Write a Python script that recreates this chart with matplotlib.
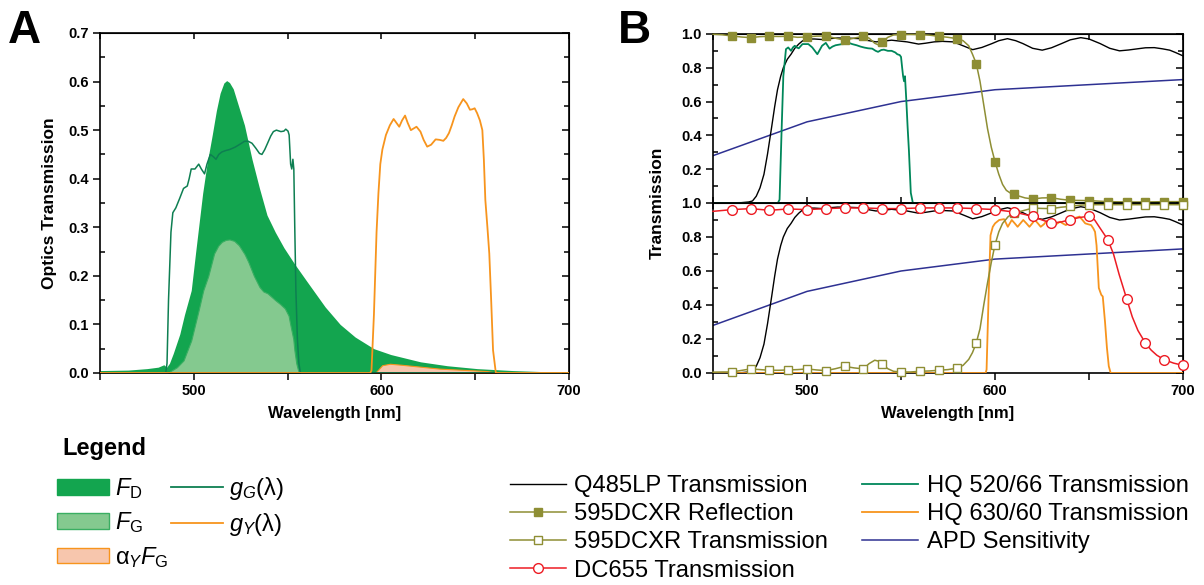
import numpy as np
import matplotlib
matplotlib.use("Agg")
import matplotlib.pyplot as plt
from matplotlib.patches import Patch
from matplotlib.lines import Line2D
from matplotlib.ticker import MultipleLocator

plt.rcParams["font.family"] = ["Liberation Sans", "DejaVu Sans"]
plt.rcParams["mathtext.fontset"] = "custom"
plt.rcParams["mathtext.rm"] = "Liberation Sans"
plt.rcParams["mathtext.it"] = "Liberation Sans:italic"
plt.rcParams["mathtext.bf"] = "Liberation Sans:bold"

# ---- panel A data ----
fd_wl = [450, 465, 475, 481, 484, 485.5, 487, 489, 492.5, 495, 498.6, 501, 504.7, 507,
         509.8, 512, 514, 516, 517.5, 519, 521, 523, 527, 531, 535, 539, 543.4, 548,
         553.6, 560, 570, 578, 586, 596, 605, 620.8, 635, 651, 670, 685, 700]
fd_val = [0.005, 0.006, 0.009, 0.012, 0.017, 0.012, 0.02, 0.04, 0.08, 0.12, 0.17, 0.25,
          0.37, 0.43, 0.49, 0.54, 0.576, 0.597, 0.602, 0.598, 0.585, 0.56, 0.51, 0.44,
          0.38, 0.325, 0.29, 0.258, 0.225, 0.19, 0.136, 0.10, 0.074, 0.05, 0.038, 0.023,
          0.015, 0.009, 0.005, 0.003, 0.002]

fg_wl = [486.4, 488, 491, 494.5, 498.6, 502.6, 505, 507.7, 510.8, 513, 514.9, 517, 519,
         521.5, 524, 527, 529, 532, 535, 537, 539.3, 543.4, 546, 548.5, 550.5, 551.5,
         553, 553.6, 554.6, 555.6, 556.5]
fg_val = [0.0, 0.005, 0.012, 0.026, 0.067, 0.13, 0.17, 0.20, 0.246, 0.262, 0.27, 0.274,
          0.275, 0.272, 0.263, 0.245, 0.229, 0.20, 0.177, 0.168, 0.164, 0.15, 0.142,
          0.133, 0.118, 0.098, 0.07, 0.047, 0.02, 0.005, 0.0]

afg_wl = [596, 597.4, 599, 600.4, 604.5, 610.6, 620.8, 631, 641, 651, 656, 659.5, 661]
afg_val = [0.0, 0.003, 0.01, 0.016, 0.019, 0.017, 0.013, 0.009, 0.007, 0.005, 0.004,
           0.002, 0.0]

gg_wl = [450, 485, 485.7, 486.5, 487.8, 488.8, 490.4, 492.5, 494.5, 496.5, 497.5, 498.6,
         500.6, 502.6, 504, 505.7, 507, 508.8, 510.5, 511.8, 513.3, 514.9, 517, 519, 522,
         525, 527, 529, 531, 533, 535, 536.3, 537.8, 539.3, 541, 542.4, 544, 546.4, 548,
         549, 550.2, 550.8, 551.6, 552.2, 552.8, 553.3, 553.8, 554.4, 555.2, 556, 556.8, 700]
gg_val = [0.0, 0.0, 0.02, 0.15, 0.29, 0.33, 0.34, 0.36, 0.38, 0.385, 0.40, 0.42, 0.42,
          0.43, 0.42, 0.41, 0.43, 0.45, 0.445, 0.44, 0.45, 0.455, 0.458, 0.46, 0.465,
          0.472, 0.477, 0.477, 0.473, 0.463, 0.452, 0.45, 0.46, 0.473, 0.488, 0.497, 0.50,
          0.497, 0.498, 0.502, 0.498, 0.49, 0.43, 0.42, 0.44, 0.42, 0.30, 0.17, 0.07,
          0.02, 0.0, 0.0]

gy_wl = [450, 594, 594.7, 596, 597.4, 598.4, 599.4, 600.5, 602.4, 604.5, 606.5, 608,
         609.5, 611, 612.6, 614, 615.7, 617, 618.7, 620.8, 622.5, 624.4, 626.5, 628.9,
         631, 633, 634.5, 636, 637.5, 639, 641, 643.6, 645.5, 647.2, 648.5, 649.7, 651,
         652.5, 653.8, 654.6, 655.4, 656.5, 657.5, 658.5, 659.5, 661, 700]
gy_val = [0.0, 0.0, 0.005, 0.12, 0.29, 0.37, 0.43, 0.46, 0.49, 0.51, 0.523, 0.515, 0.507,
          0.52, 0.53, 0.515, 0.50, 0.503, 0.507, 0.497, 0.48, 0.466, 0.47, 0.481, 0.48,
          0.478, 0.484, 0.494, 0.51, 0.528, 0.547, 0.564, 0.555, 0.542, 0.543, 0.545,
          0.535, 0.52, 0.50, 0.44, 0.356, 0.30, 0.246, 0.15, 0.047, 0.0, 0.0]

# ---- panel B data ----
q485_wl = [450, 465, 469, 471, 473, 475, 477.1, 479, 481.2, 482.8, 484.3, 486, 487.4,
           489.5, 491.5, 493.5, 495.6, 497.5, 499.7, 504, 507.9, 512, 516.2, 522, 528.5,
           532, 536.7, 541, 545, 549, 553.2, 559.3, 563, 567.6, 572, 577.8, 583, 588.1,
           593, 598.4, 602, 606.6, 611, 614.8, 620, 625.1, 630, 635.4, 640, 645.6, 650,
           655.9, 661, 666.2, 671, 676.5, 680, 684.7, 689, 692.9, 696, 700]
q485_val = [0.0, 0.002, 0.006, 0.012, 0.04, 0.09, 0.17, 0.29, 0.45, 0.57, 0.67, 0.75,
            0.80, 0.85, 0.88, 0.915, 0.94, 0.958, 0.97, 0.97, 0.967, 0.972, 0.976, 0.975,
            0.972, 0.962, 0.953, 0.958, 0.963, 0.958, 0.953, 0.94, 0.945, 0.953, 0.956,
            0.953, 0.93, 0.907, 0.92, 0.943, 0.96, 0.972, 0.96, 0.943, 0.915, 0.904,
            0.918, 0.943, 0.965, 0.978, 0.97, 0.943, 0.915, 0.90, 0.905, 0.913, 0.918,
            0.919, 0.912, 0.904, 0.89, 0.87]

refl_wl = [450, 455, 460, 465, 470, 475, 480, 485, 490, 495, 500, 505, 510, 515, 520,
           525, 530, 533, 536, 538, 540, 543, 546, 550, 555, 560, 565, 570, 575, 580,
           583, 586, 588, 590, 592, 594, 596, 598, 600, 602, 604, 606, 608, 610, 613,
           616, 620, 625, 630, 635, 640, 645, 650, 660, 670, 680, 690, 700]
refl_val = [0.998, 0.995, 0.988, 0.982, 0.978, 0.984, 0.986, 0.985, 0.986, 0.98, 0.982,
            0.987, 0.988, 0.975, 0.963, 0.975, 0.986, 0.975, 0.945, 0.935, 0.953, 0.98,
            0.994, 0.996, 0.997, 0.996, 0.993, 0.986, 0.98, 0.972, 0.96, 0.93, 0.88,
            0.825, 0.72, 0.58, 0.44, 0.33, 0.244, 0.17, 0.11, 0.075, 0.06, 0.051, 0.04,
            0.03, 0.024, 0.03, 0.031, 0.022, 0.016, 0.015, 0.014, 0.008, 0.006, 0.006,
            0.008, 0.008]

dctr_wl = [450, 455, 460, 465, 470, 475, 480, 485, 490, 495, 500, 505, 510, 515, 520,
           525, 530, 533, 536, 538, 540, 543, 546, 550, 555, 560, 565, 570, 575, 580,
           583, 586, 588, 590, 592, 594, 596, 598, 600, 602, 604, 607, 610, 615, 620,
           625, 630, 635, 640, 645, 650, 660, 670, 680, 690, 700]
dctr_val = [0.005, 0.006, 0.006, 0.015, 0.024, 0.02, 0.016, 0.016, 0.018, 0.02, 0.024,
            0.018, 0.014, 0.025, 0.039, 0.03, 0.024, 0.055, 0.075, 0.07, 0.053, 0.025,
            0.01, 0.006, 0.006, 0.01, 0.012, 0.016, 0.02, 0.029, 0.045, 0.08, 0.12,
            0.176, 0.26, 0.40, 0.53, 0.65, 0.755, 0.83, 0.88, 0.92, 0.94, 0.955, 0.97,
            0.968, 0.967, 0.975, 0.98, 0.987, 0.99, 0.99, 0.99, 0.99, 0.99, 0.99]

dc655_wl = [450, 460, 470, 480, 490, 500, 510, 520, 530, 540, 550, 560, 570, 580, 590,
            600, 610, 620, 625, 630, 635, 640, 645, 650, 653, 656, 660, 663, 666, 670,
            673, 676, 680, 683, 686, 690, 695, 700]
dc655_val = [0.951, 0.961, 0.967, 0.957, 0.965, 0.961, 0.967, 0.971, 0.971, 0.967,
             0.967, 0.971, 0.971, 0.971, 0.967, 0.961, 0.947, 0.922, 0.90, 0.882, 0.888,
             0.902, 0.915, 0.922, 0.90, 0.85, 0.784, 0.70, 0.58, 0.437, 0.33, 0.25,
             0.176, 0.135, 0.105, 0.078, 0.058, 0.045]

hq520_wl = [450, 484.5, 485.4, 486.4, 487.4, 488.8, 490, 491.5, 492.5, 493.5, 494.5,
            495.6, 497.6, 500.7, 502.8, 505.5, 507, 508, 510, 512, 513.5, 515.2, 518.2,
            520, 522.3, 524, 526.4, 528.5, 530.6, 532.5, 534.7, 536.5, 537.8, 539.5,
            540.9, 543, 545, 547, 548, 549.3, 550, 550.6, 551.1, 551.6, 552.1, 552.8,
            553.5, 554.2, 555.2, 556.3, 700]
hq520_val = [0.0, 0.0, 0.02, 0.40, 0.75, 0.91, 0.92, 0.90, 0.92, 0.93, 0.92, 0.915,
             0.94, 0.94, 0.92, 0.88, 0.91, 0.93, 0.947, 0.913, 0.925, 0.933, 0.939, 0.94,
             0.947, 0.94, 0.933, 0.925, 0.919, 0.915, 0.913, 0.90, 0.894, 0.905, 0.907,
             0.90, 0.90, 0.89, 0.88, 0.875, 0.864, 0.80, 0.75, 0.72, 0.75, 0.61, 0.45,
             0.31, 0.06, 0.0, 0.0]

hq630_wl = [450, 595, 595.5, 596.6, 597.6, 598.8, 600, 602.2, 604.8, 606.8, 608.9, 610.5,
            612, 613.5, 615, 616.7, 618.3, 619.8, 621.2, 622.8, 624.3, 626, 627.4, 629,
            630.5, 632.5, 634.6, 636, 637.7, 639.8, 641.8, 643.5, 644.9, 646.5, 648,
            649.5, 651.1, 652.3, 653.2, 654, 655.2, 656.5, 657.3, 658.5, 659.5, 660.5,
            661.5, 700]
hq630_val = [0.0, 0.0, 0.02, 0.46, 0.81, 0.86, 0.88, 0.90, 0.905, 0.86, 0.90, 0.88, 0.86,
             0.88, 0.90, 0.88, 0.86, 0.88, 0.90, 0.88, 0.86, 0.875, 0.894, 0.88, 0.865,
             0.875, 0.89, 0.88, 0.87, 0.89, 0.91, 0.915, 0.92, 0.90, 0.88, 0.875, 0.87,
             0.85, 0.83, 0.75, 0.50, 0.46, 0.45, 0.30, 0.15, 0.04, 0.0, 0.0]

apd_wl = [450, 500, 550, 600, 650, 700]
apd_val = [0.28, 0.48, 0.60, 0.67, 0.70, 0.73]

marker_wl = [460, 470, 480, 490, 500, 510, 520, 530, 540, 550, 560, 570, 580, 590, 600,
             610, 620, 630, 640, 650, 660, 670, 680, 690, 700]

# colours
C_FD = "#13a54f"
C_FG = "#84c98f"
C_FG_EDGE = "#3aae62"
C_AFG = "#f7c6ad"
C_ORANGE = "#f7941d"
C_GG = "#0e7f52"
C_HQ520 = "#00875a"
C_OLIVE = "#8e8e34"
C_RED = "#ed1c24"
C_APD = "#2e3192"


def marks(wl):
    return list(np.isin(np.asarray(wl, dtype=float), marker_wl))


def style_axis(ax, ymajor, yminor, show_xlabels=True):
    ax.set_xlim(450, 700)
    ax.xaxis.set_major_locator(MultipleLocator(100))
    ax.xaxis.set_minor_locator(MultipleLocator(50))
    ax.yaxis.set_major_locator(MultipleLocator(ymajor))
    ax.yaxis.set_minor_locator(MultipleLocator(yminor))
    ax.tick_params(axis="both", which="major", length=5, width=1.1, labelsize=10.5, pad=3)
    ax.tick_params(axis="x", which="minor", length=5, width=1.1, direction="out")
    ax.tick_params(axis="y", which="minor", length=3.5, width=1.1, direction="in")
    ax.tick_params(axis="x", which="major", direction="out", labelbottom=show_xlabels)
    ax.tick_params(axis="y", which="major", direction="out")
    for sp in ax.spines.values():
        sp.set_linewidth(1.2)
    # top / right ticks point inwards
    sx = ax.secondary_xaxis("top")
    sx.xaxis.set_major_locator(MultipleLocator(100))
    sx.xaxis.set_minor_locator(MultipleLocator(50))
    sx.tick_params(which="both", direction="in", length=4, width=1.1, labeltop=False)
    sy = ax.secondary_yaxis("right")
    sy.yaxis.set_major_locator(MultipleLocator(ymajor))
    sy.yaxis.set_minor_locator(MultipleLocator(yminor))
    sy.tick_params(which="major", direction="in", length=5, width=1.1, labelright=False)
    sy.tick_params(which="minor", direction="in", length=3.5, width=1.1)


fig = plt.figure(figsize=(12.04, 5.85), dpi=100)

# ---------------- Panel A ----------------
axA = fig.add_axes([0.0831, 0.3624, 0.3895, 0.5812])
axA.fill_between(fd_wl, fd_val, color=C_FD, lw=0, zorder=1)
axA.fill_between(fg_wl, fg_val, facecolor=C_FG, edgecolor=C_FG_EDGE, lw=0.8, zorder=2)
axA.fill_between(afg_wl, afg_val, facecolor=C_AFG, edgecolor=C_ORANGE, lw=0.8, zorder=2)
axA.plot(gg_wl, gg_val, color=C_GG, lw=1.1, zorder=3)
axA.plot(gy_wl, gy_val, color=C_ORANGE, lw=1.3, zorder=3)
axA.set_ylim(0, 0.7)
style_axis(axA, 0.1, 0.05)
axA.set_xticks([500, 600, 700])
axA.set_xticklabels(["500", "600", "700"], fontweight="bold")
axA.set_yticks([0.0, 0.1, 0.2, 0.3, 0.4, 0.5, 0.6, 0.7])
axA.set_yticklabels(["0.0", "0.1", "0.2", "0.3", "0.4", "0.5", "0.6", "0.7"],
                    fontweight="bold")
axA.set_ylabel("Optics Transmission", fontsize=12.5, fontweight="bold", labelpad=8)
axA.set_xlabel("Wavelength [nm]", fontsize=12, fontweight="bold", labelpad=6)

# ---------------- Panel B ----------------
axB1 = fig.add_axes([0.5922, 0.653, 0.3904, 0.289])
axB2 = fig.add_axes([0.5922, 0.3624, 0.3904, 0.2906])

axB1.plot(apd_wl, apd_val, color=C_APD, lw=1.1, zorder=2)
axB1.plot(q485_wl, q485_val, color="black", lw=1.0, zorder=3)
axB1.plot(hq520_wl, hq520_val, color=C_HQ520, lw=1.3, zorder=3)
axB1.plot(refl_wl, refl_val, color=C_OLIVE, lw=1.1, marker="s", ms=5.5,
          mfc=C_OLIVE, mec=C_OLIVE, markevery=marks(refl_wl), zorder=4, clip_on=False)
axB1.set_ylim(0, 1.0)
style_axis(axB1, 0.2, 0.1, show_xlabels=False)
axB1.set_yticks([0.2, 0.4, 0.6, 0.8, 1.0])
axB1.set_yticklabels(["0.2", "0.4", "0.6", "0.8", "1.0"], fontweight="bold")
axB1.tick_params(axis="x", which="both", direction="in", length=4)

axB2.plot(apd_wl, apd_val, color=C_APD, lw=1.1, zorder=2)
axB2.plot(q485_wl, q485_val, color="black", lw=1.0, zorder=3)
axB2.plot(hq630_wl, hq630_val, color=C_ORANGE, lw=1.3, zorder=3)
axB2.plot(dctr_wl, dctr_val, color=C_OLIVE, lw=1.1, marker="s", ms=5.5,
          mfc="white", mec=C_OLIVE, mew=1.0, markevery=marks(dctr_wl), zorder=4,
          clip_on=False)
axB2.plot(dc655_wl, dc655_val, color=C_RED, lw=1.1, marker="o", ms=7,
          mfc="white", mec=C_RED, mew=1.0, markevery=marks(dc655_wl), zorder=5,
          clip_on=False)
axB2.set_ylim(0, 1.0)
style_axis(axB2, 0.2, 0.1)
axB2.set_xticks([500, 600, 700])
axB2.set_xticklabels(["500", "600", "700"], fontweight="bold")
axB2.set_yticks([0.0, 0.2, 0.4, 0.6, 0.8, 1.0])
axB2.set_yticklabels(["0.0", "0.2", "0.4", "0.6", "0.8", "1.0"], fontweight="bold")
axB2.set_xlabel("Wavelength [nm]", fontsize=12, fontweight="bold", labelpad=6)

fig.text(657 / 1204, 1 - 203 / 585, "Transmission", rotation=90, ha="center",
         va="center", fontsize=12.5, fontweight="bold")

# panel letters
fig.text(8 / 1204, 1 - 43 / 585, "A", fontsize=33, fontweight="bold", va="baseline")
fig.text(618 / 1204, 1 - 43 / 585, "B", fontsize=33, fontweight="bold", va="baseline")

# ---------------- Legend A ----------------
fig.text(62 / 1204, 1 - 455 / 585, "Legend", fontsize=17, fontweight="bold",
         va="baseline")
hA = [
    Patch(facecolor=C_FD, edgecolor=C_FD),
    Patch(facecolor=C_FG, edgecolor=C_FG_EDGE),
    Patch(facecolor=C_AFG, edgecolor=C_ORANGE),
    Line2D([], [], color=C_GG, lw=1.3),
    Line2D([], [], color=C_ORANGE, lw=1.3),
]
lA = [r"$F_{\mathrm{D}}$", r"$F_{\mathrm{G}}$", r"$\mathrm{α}_{Y}F_{\mathrm{G}}$",
      r"$g_{G}(\mathrm{λ})$", r"$g_{Y}(\mathrm{λ})$"]
fig.legend(hA, lA, loc="upper left", bbox_to_anchor=(57 / 1204, 1 - 475 / 585),
           ncol=2, frameon=False, fontsize=17, borderpad=0, borderaxespad=0,
           handlelength=2.2, handleheight=0.65, handletextpad=0.25, columnspacing=0.12,
           labelspacing=0.4)

# ---------------- Legend B ----------------
hB = [
    Line2D([], [], color="black", lw=1.0),
    Line2D([], [], color=C_OLIVE, lw=1.1, marker="s", ms=5.5, mfc=C_OLIVE, mec=C_OLIVE),
    Line2D([], [], color=C_OLIVE, lw=1.1, marker="s", ms=5.5, mfc="white", mec=C_OLIVE),
    Line2D([], [], color=C_RED, lw=1.1, marker="o", ms=7, mfc="white", mec=C_RED),
    Line2D([], [], color=C_HQ520, lw=1.3),
    Line2D([], [], color=C_ORANGE, lw=1.3),
    Line2D([], [], color=C_APD, lw=1.1),
]
lB = ["Q485LP Transmission", "595DCXR Reflection", "595DCXR Transmission",
      "DC655 Transmission", "HQ 520/66 Transmission", "HQ 630/60 Transmission",
      "APD Sensitivity"]
fig.legend(hB, lB, loc="upper left", bbox_to_anchor=(510 / 1204, 1 - 475 / 585),
           ncol=2, frameon=False, fontsize=17.1, borderpad=0, borderaxespad=0,
           handlelength=2.35, handletextpad=0.35, columnspacing=1.45, labelspacing=0.26)

fig.savefig("out.png", dpi=100)
